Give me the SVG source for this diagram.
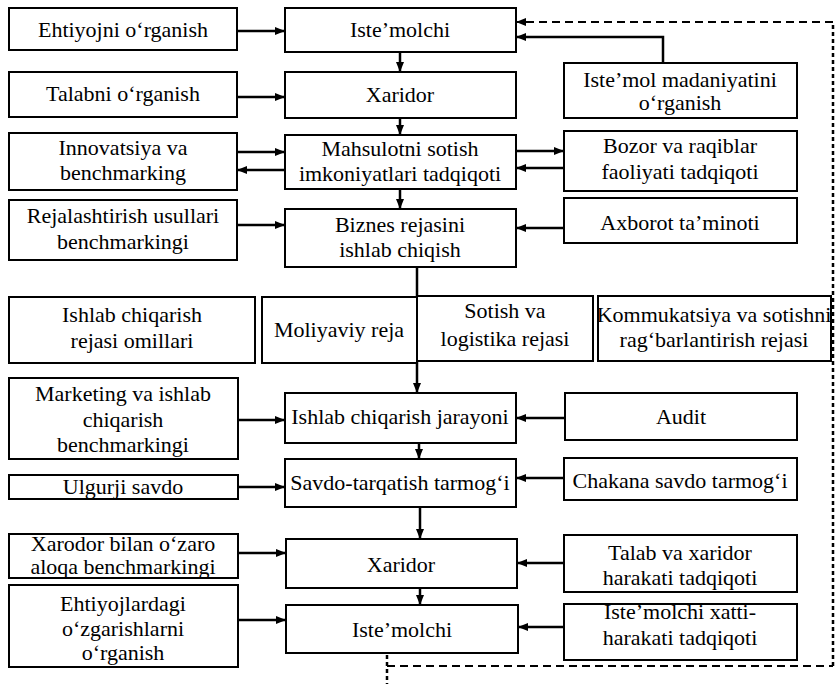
<svg xmlns="http://www.w3.org/2000/svg" width="838" height="684" viewBox="0 0 838 684">
<style>
.box{fill:#fff;stroke:#000;stroke-width:2}
.t{font-family:'Liberation Serif',Tinos,'Times New Roman','DejaVu Serif',serif;font-size:22px;text-anchor:middle;fill:#000}
.ln{fill:none;stroke:#000;stroke-width:2.5}
.dash{fill:none;stroke:#000;stroke-width:2;stroke-dasharray:8 5}
.dot{fill:none;stroke:#000;stroke-width:2.5;stroke-dasharray:4 3}
</style>
<defs>
<marker id="ah" viewBox="0 0 10 10" refX="10" refY="5" markerWidth="10" markerHeight="10" markerUnits="userSpaceOnUse" orient="auto"><path d="M0,1 L10,5 L0,9 z" fill="#000"/></marker>
</defs>
<rect width="838" height="684" fill="#fff"/>
<g id="connectors">
<path class="ln" d="M237,31 H285" marker-end="url(#ah)"/>
<path class="ln" d="M237,97 H285" marker-end="url(#ah)"/>
<path class="ln" d="M237,152 H285" marker-end="url(#ah)"/>
<path class="ln" d="M285,170 H237" marker-end="url(#ah)"/>
<path class="ln" d="M516,151 H564" marker-end="url(#ah)"/>
<path class="ln" d="M564,168 H516" marker-end="url(#ah)"/>
<path class="ln" d="M663,63 V37 H516" marker-end="url(#ah)"/>
<path class="ln" d="M400,52 V72" marker-end="url(#ah)"/>
<path class="ln" d="M400,118 V135" marker-end="url(#ah)"/>
<path class="ln" d="M400,189 V209" marker-end="url(#ah)"/>
<path class="ln" d="M237,225 H285" marker-end="url(#ah)"/>
<path class="ln" d="M564,228 H516" marker-end="url(#ah)"/>
<path class="ln" d="M417,267 V393" marker-end="url(#ah)"/>
<path class="ln" d="M238,420 H285" marker-end="url(#ah)"/>
<path class="ln" d="M565,418 H516" marker-end="url(#ah)"/>
<path class="ln" d="M419,443 V459" marker-end="url(#ah)"/>
<path class="ln" d="M238,487 H285" marker-end="url(#ah)"/>
<path class="ln" d="M564,478 H516" marker-end="url(#ah)"/>
<path class="ln" d="M420,507 V539" marker-end="url(#ah)"/>
<path class="ln" d="M238,553 H286" marker-end="url(#ah)"/>
<path class="ln" d="M564,563 H517" marker-end="url(#ah)"/>
<path class="ln" d="M420,588 V605" marker-end="url(#ah)"/>
<path class="ln" d="M238,620 H286" marker-end="url(#ah)"/>
<path class="ln" d="M564,627 H518" marker-end="url(#ah)"/>
<path class="dot" d="M387,655 V684"/>
<path class="dash" d="M387,666 H833"/>
<path class="dot" d="M833,666 V22"/>
<path class="dash" d="M833,22 H516" marker-end="url(#ah)"/>
</g>
<g id="L1"><rect class="box" x="9" y="8" width="228" height="42"/><text class="t" x="123" y="37">Ehtiyojni o‘rganish</text></g>
<g id="L2"><rect class="box" x="9" y="72" width="228" height="45"/><text class="t" x="123" y="101">Talabni o‘rganish</text></g>
<g id="L3"><rect class="box" x="9" y="133" width="228" height="57"/><text class="t" x="123" y="155">Innovatsiya va</text><text class="t" x="123" y="180">benchmarking</text></g>
<g id="L4"><rect class="box" x="9" y="200" width="228" height="60"/><text class="t" x="123" y="223">Rejalashtirish usullari</text><text class="t" x="123" y="249">benchmarkingi</text></g>
<g id="L5"><rect class="box" x="9" y="297" width="246" height="66"/><text class="t" x="132" y="322">Ishlab chiqarish</text><text class="t" x="132" y="348">rejasi omillari</text></g>
<g id="L6"><rect class="box" x="9" y="378" width="229" height="81"/><text class="t" x="123" y="401">Marketing va ishlab</text><text class="t" x="123" y="427">chiqarish</text><text class="t" x="123" y="452">benchmarkingi</text></g>
<g id="L7"><rect class="box" x="9" y="475" width="229" height="24"/><text class="t" x="123" y="494">Ulgurji savdo</text></g>
<g id="L8"><rect class="box" x="9" y="534" width="229" height="44"/><text class="t" x="123" y="551">Xarodor bilan o‘zaro</text><text class="t" x="123" y="574">aloqa benchmarkingi</text></g>
<g id="L9"><rect class="box" x="9" y="585" width="229" height="82"/><text class="t" x="123" y="611">Ehtiyojlardagi</text><text class="t" x="123" y="636">o‘zgarishlarni</text><text class="t" x="123" y="660">o‘rganish</text></g>
<g id="C1"><rect class="box" x="285" y="8" width="231" height="44"/><text class="t" x="400" y="37">Iste’molchi</text></g>
<g id="C2"><rect class="box" x="285" y="72" width="231" height="46"/><text class="t" x="400" y="102">Xaridor</text></g>
<g id="C3"><rect class="box" x="285" y="135" width="231" height="54"/><text class="t" x="400" y="156">Mahsulotni sotish</text><text class="t" x="400" y="181">imkoniyatlari tadqiqoti</text></g>
<g id="C4"><rect class="box" x="285" y="209" width="231" height="58"/><text class="t" x="400" y="232">Biznes rejasini</text><text class="t" x="400" y="257">ishlab chiqish</text></g>
<g id="M1"><rect class="box" x="262" y="297" width="155" height="66"/><text class="t" x="339" y="337">Moliyaviy reja</text></g>
<g id="M2"><rect class="box" x="417" y="296" width="176" height="65"/><text class="t" x="505" y="318">Sotish va</text><text class="t" x="505" y="346">logistika rejasi</text></g>
<g id="M3"><rect class="box" x="598" y="296" width="233" height="65"/><text class="t" x="714" y="322">Kommukatsiya va sotishni</text><text class="t" x="714" y="347">rag‘barlantirish rejasi</text></g>
<g id="C5"><rect class="box" x="285" y="393" width="231" height="50"/><text class="t" x="400" y="424">Ishlab chiqarish jarayoni</text></g>
<g id="C6"><rect class="box" x="285" y="459" width="231" height="48"/><text class="t" x="400" y="490">Savdo-tarqatish tarmog‘i</text></g>
<g id="C7"><rect class="box" x="286" y="539" width="231" height="49"/><text class="t" x="401" y="572">Xaridor</text></g>
<g id="C8"><rect class="box" x="286" y="605" width="232" height="48"/><text class="t" x="402" y="637">Iste’molchi</text></g>
<g id="R1"><rect class="box" x="564" y="63" width="233" height="55"/><text class="t" x="680" y="87">Iste’mol madaniyatini</text><text class="t" x="680" y="110">o‘rganish</text></g>
<g id="R2"><rect class="box" x="564" y="131" width="233" height="60"/><text class="t" x="680" y="153">Bozor va raqiblar</text><text class="t" x="680" y="179">faoliyati tadqiqoti</text></g>
<g id="R3"><rect class="box" x="564" y="198" width="233" height="45"/><text class="t" x="680" y="230">Axborot ta’minoti</text></g>
<g id="R4"><rect class="box" x="565" y="393" width="232" height="47"/><text class="t" x="681" y="424">Audit</text></g>
<g id="R5"><rect class="box" x="564" y="458" width="233" height="42"/><text class="t" x="680" y="488">Chakana savdo tarmog‘i</text></g>
<g id="R6"><rect class="box" x="564" y="535" width="233" height="57"/><text class="t" x="680" y="560">Talab va xaridor</text><text class="t" x="680" y="585">harakati tadqiqoti</text></g>
<g id="R7"><rect class="box" x="564" y="604" width="233" height="56"/><text class="t" x="680" y="619">Iste’molchi xatti-</text><text class="t" x="680" y="645">harakati tadqiqoti</text></g>
</svg>
